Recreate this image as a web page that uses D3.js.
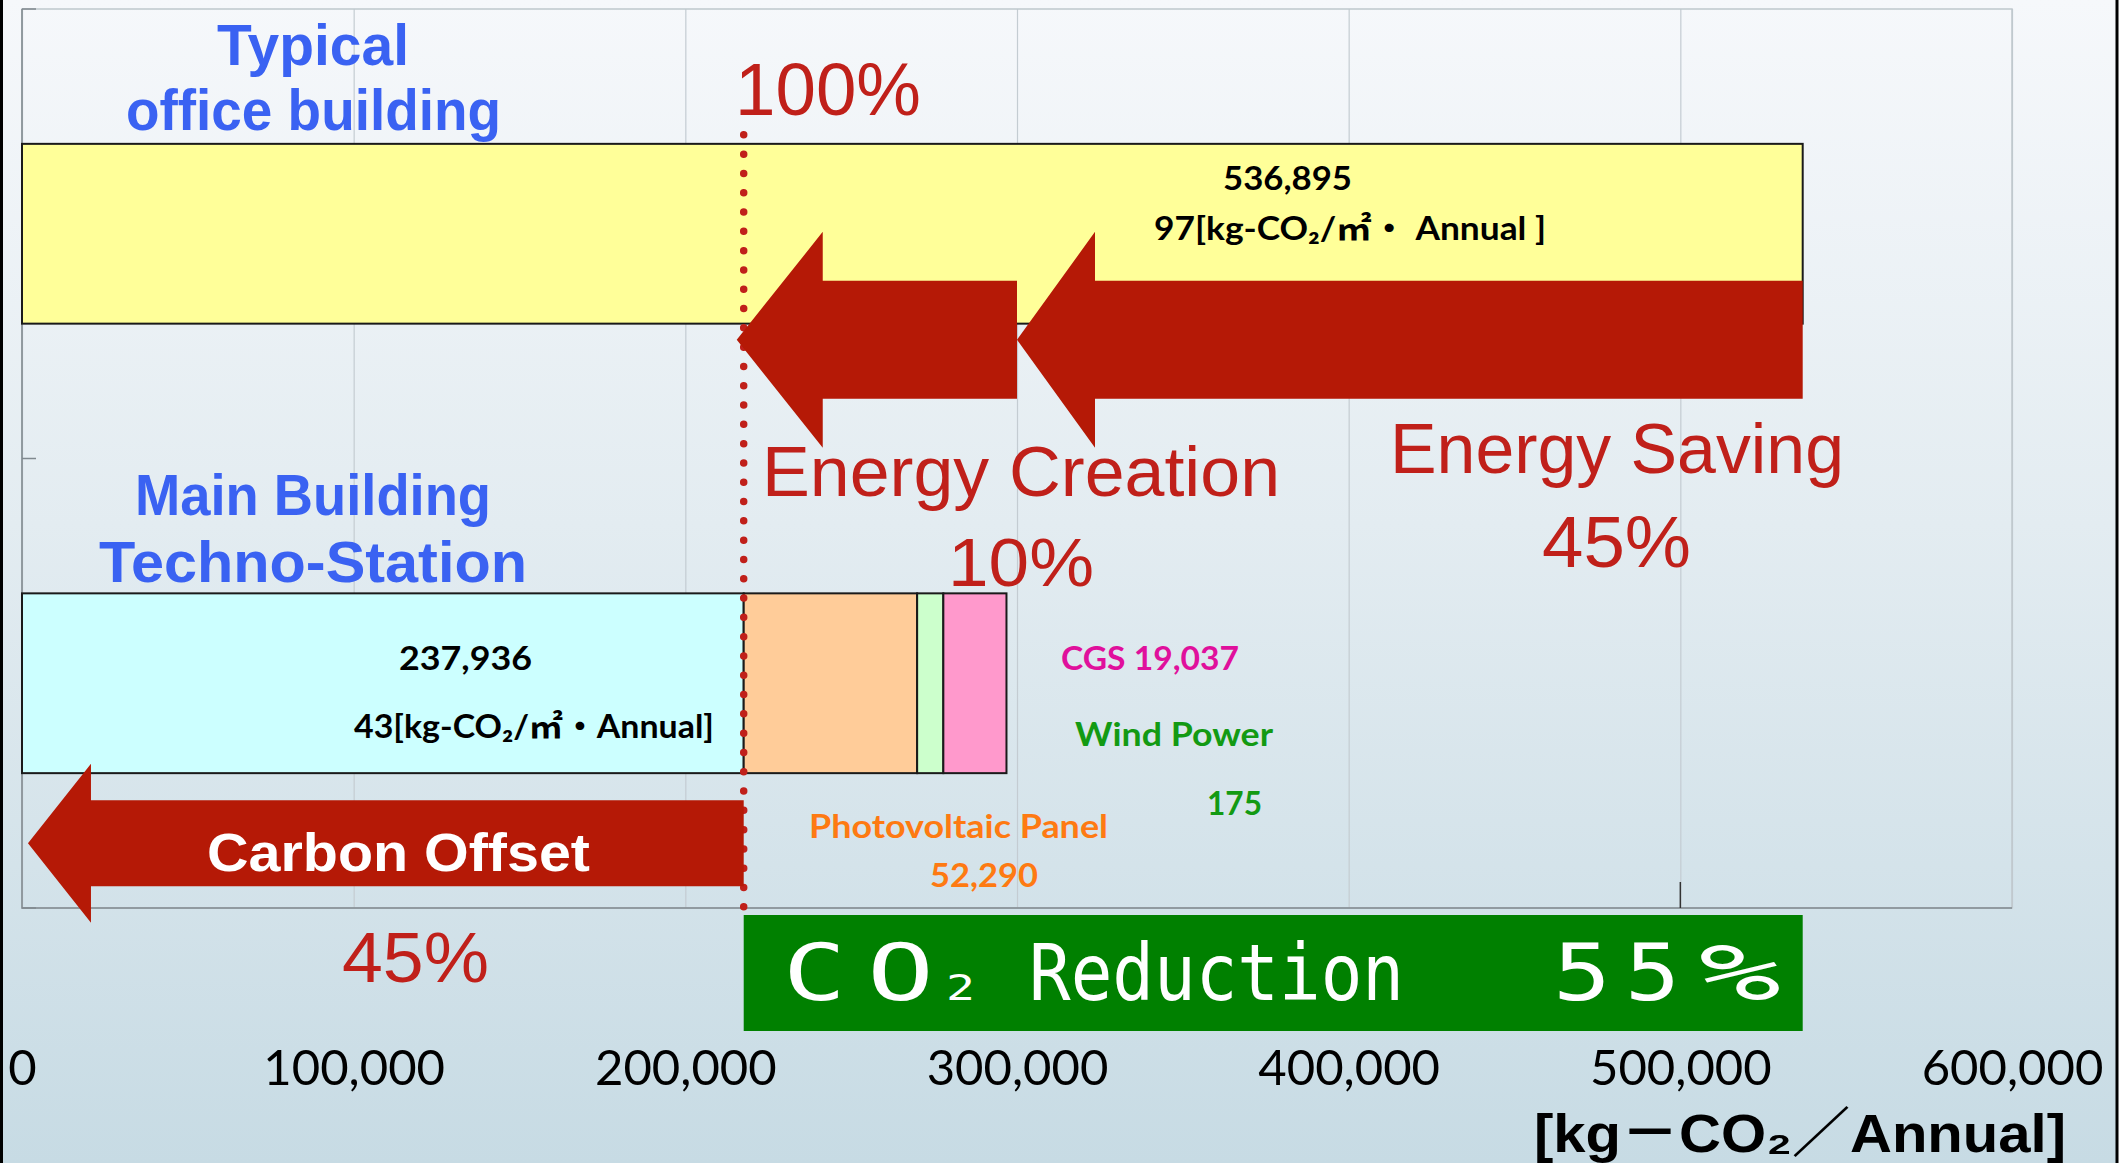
<!DOCTYPE html>
<html>
<head>
<meta charset="utf-8">
<script src="https://cdn.jsdelivr.net/npm/d3@7"></script>
<style>
  body { margin: 0; background: #fff; }
  svg { display: block; }
</style>
</head>
<body>
<svg id="chart" width="2123" height="1163"></svg>
<script>
// values
const categories = ["Typical office building", "Main Building Techno-Station"];
const typicalTotal = 536895;
const segNames = ["Main Building", "Photovoltaic Panel", "Wind Power", "CGS"];
const segValues = [217600, 52290, 7900, 19037];   // wind segment is drawn wider than its 175
const xTicks = [0, 100000, 200000, 300000, 400000, 500000, 600000];
const arrowNames = ["Energy Saving", "Energy Creation", "Carbon Offset"];
const arrowFrom = [536895, 300000, 217600];
const arrowTo = [300000, 215500, 1800];
const reductionSpan = [217600, 536895];

const W = 2123, H = 1163;
const plot = { left: 22, right: 2012, top: 9, bottom: 908 };
const svg = d3.select("#chart");

const x = d3.scaleLinear().domain([0, 600000]).range([plot.left, plot.right]);
const y = d3.scaleBand().domain(categories).range([plot.top, plot.bottom]).paddingInner(0.6).paddingOuter(0.3);
const bw = y.bandwidth();

// background gradient
const defs = svg.append("defs");
const grad = defs.append("linearGradient").attr("id", "bg").attr("x1", 0).attr("y1", 0).attr("x2", 0).attr("y2", 1);
grad.append("stop").attr("offset", "0%").attr("stop-color", "#f6f8fb");
grad.append("stop").attr("offset", "45%").attr("stop-color", "#e3ecf1");
grad.append("stop").attr("offset", "100%").attr("stop-color", "#c7dbe4");
svg.append("rect").attr("x", 0).attr("y", 0).attr("width", 2118).attr("height", H).attr("fill", "url(#bg)");
svg.append("line").attr("x1", 1.5).attr("x2", 1.5).attr("y1", 0).attr("y2", H).attr("stroke", "#000").attr("stroke-width", 3);
svg.append("line").attr("x1", 2117).attr("x2", 2117).attr("y1", 0).attr("y2", H).attr("stroke", "#000").attr("stroke-width", 3);

// gridlines
const grid = svg.append("g").attr("transform", `translate(0,${plot.bottom})`)
  .call(d3.axisBottom(x).tickValues(xTicks).tickSize(-(plot.bottom - plot.top)).tickFormat(""));
grid.select(".domain").remove();
grid.selectAll("line").attr("stroke", "#c4ccd2").attr("stroke-width", 1.2);

// plot frame
svg.append("rect").attr("x", plot.left).attr("y", plot.top)
  .attr("width", plot.right - plot.left).attr("height", plot.bottom - plot.top)
  .attr("fill", "none").attr("stroke", "#bfc7cd").attr("stroke-width", 1.5);
svg.append("path").attr("d", `M${plot.left},${plot.top}V${plot.bottom}H${plot.right}`)
  .attr("fill", "none").attr("stroke", "#80898f").attr("stroke-width", 1.5);
// category separator ticks on the left axis
svg.selectAll(".ytick").data(d3.range(categories.length + 1)).join("line")
  .attr("class", "ytick")
  .attr("x1", plot.left).attr("x2", plot.left + 14)
  .attr("y1", i => plot.top + i * y.step()).attr("y2", i => plot.top + i * y.step())
  .attr("stroke", "#80898f").attr("stroke-width", 1.5);
// the lone dark tick at 500,000
svg.append("line").attr("x1", x(500000)).attr("x2", x(500000))
  .attr("y1", plot.bottom - 26).attr("y2", plot.bottom)
  .attr("stroke", "#333").attr("stroke-width", 1.5);

// typical building bar
svg.append("rect")
  .attr("x", x(0)).attr("y", y(categories[0]))
  .attr("width", x(typicalTotal) - x(0)).attr("height", bw)
  .attr("fill", "#ffff99").attr("stroke", "#1a1a1a").attr("stroke-width", 2);

// main building stacked bar
const segColors = ["#ccffff", "#ffcc99", "#ccffcc", "#ff99cc"];
let acc = 0;
const segs = segValues.map((v, i) => { const s = { name: segNames[i], x0: acc, x1: acc + v, color: segColors[i] }; acc += v; return s; });
svg.selectAll(".seg").data(segs).join("rect")
  .attr("class", "seg")
  .attr("x", d => x(d.x0)).attr("y", y(categories[1]))
  .attr("width", d => x(d.x1) - x(d.x0)).attr("height", bw)
  .attr("fill", d => d.color).attr("stroke", "#1a1a1a").attr("stroke-width", 2);

// dotted 100% line
svg.append("line")
  .attr("x1", x(segValues[0])).attr("x2", x(segValues[0]))
  .attr("y1", y(categories[0]) - 9).attr("y2", plot.bottom + 2)
  .attr("stroke", "#c0201a").attr("stroke-width", 7.5)
  .attr("stroke-linecap", "round").attr("stroke-dasharray", "0 19.3");

// arrows
const arrowGeom = [
  { cat: 0, frac: 1.09, body: 118, head: 216, headL: 78 },
  { cat: 0, frac: 1.09, body: 118, head: 216, headL: 86 },
  { cat: 1, frac: 1.39, body: 86, head: 159, headL: 63 }
];
function arrowPath(x0, x1, cy, g) {
  const hx = x1 + g.headL;
  return `M${x0},${cy - g.body / 2}H${hx}V${cy - g.head / 2}L${x1},${cy}L${hx},${cy + g.head / 2}V${cy + g.body / 2}H${x0}Z`;
}
svg.selectAll(".arrow").data(arrowNames).join("path")
  .attr("class", "arrow")
  .attr("d", (d, i) => {
    const g = arrowGeom[i];
    return arrowPath(x(arrowFrom[i]), x(arrowTo[i]), y(categories[g.cat]) + bw * g.frac, g);
  })
  .attr("fill", "#b51906");

// CO2 reduction box
svg.append("rect")
  .attr("x", x(reductionSpan[0])).attr("y", 915)
  .attr("width", x(reductionSpan[1]) - x(reductionSpan[0])).attr("height", 116)
  .attr("fill", "#008000");

// x axis labels
const xAxis = svg.append("g").attr("transform", "translate(0,1085)")
  .call(d3.axisBottom(x).tickValues(xTicks).tickSize(0).tickPadding(0).tickFormat(d3.format(",")));
xAxis.select(".domain").remove();
xAxis.selectAll("text").attr("dy", 0).attr("fill", "#000")
  .style("font-family", "Lato, 'DejaVu Sans', sans-serif").style("font-size", "49px");

// text annotations
const SANS = "'Liberation Sans', Arial, sans-serif";
const BOLD = "Lato, 'DejaVu Sans', 'Noto Sans CJK JP', sans-serif";
const MONO = "'DejaVu Sans Mono', monospace";
const RED = "#c0201a", BLUE = "#3a62f2";
function label(txt, lx, ly, len, size, color, family, weight) {
  svg.append("text")
    .attr("x", lx).attr("y", ly)
    .attr("textLength", len).attr("lengthAdjust", "spacingAndGlyphs")
    .attr("fill", color)
    .style("font-family", family).style("font-size", size + "px").style("font-weight", weight)
    .text(txt);
}
label("Typical", 217, 65, 192, 58, BLUE, SANS, 700);
label("office building", 126, 130, 375, 58, BLUE, SANS, 700);
label("Main Building", 135, 515, 356, 58, BLUE, SANS, 700);
label("Techno-Station", 99, 582, 428, 58, BLUE, SANS, 700);

label("100%", 735, 115, 186, 74, RED, SANS, 400);
label("Energy Creation", 762, 496, 518, 70, RED, SANS, 400);
label("10%", 948, 586, 146, 68, RED, SANS, 400);
label("Energy Saving", 1390, 473, 454, 70, RED, SANS, 400);
label("45%", 1542, 567, 149, 72, RED, SANS, 400);
label("45%", 342, 982, 147, 70, RED, SANS, 400);

label("536,895", 1223, 190, 129, 32, "#000", BOLD, 700);
label("97[kg-CO\u2082/\u33A1\u30FB Annual ]", 1154, 240, 392, 32, "#000", BOLD, 700);
label("237,936", 399, 670, 133, 32, "#000", BOLD, 700);
label("43[kg-CO\u2082/\u33A1\u30FBAnnual]", 354, 738, 360, 32, "#000", BOLD, 700);

label("CGS 19,037", 1061, 670, 178, 32, "#e0109c", BOLD, 700);
label("Wind Power", 1075, 746, 198, 32, "#139a13", BOLD, 700);
label("175", 1207, 815, 55, 32, "#139a13", BOLD, 700);
label("Photovoltaic Panel", 809, 838, 299, 32, "#fe7a12", BOLD, 700);
label("52,290", 930, 887, 108, 32, "#fe7a12", BOLD, 700);

label("Carbon Offset", 207, 871, 383, 53, "#fff", SANS, 700);

// "ＣＯ₂ Reduction　５５％" in a wide monospaced look
label("C", 783, 1000, 63, 78, "#fff", MONO, 400);
label("O", 867, 1000, 67, 78, "#fff", MONO, 400);
label("2", 946, 1000, 29, 36, "#fff", MONO, 400);
label("Reduction", 1029, 1000, 375, 78, "#fff", MONO, 400);
label("5", 1553, 1000, 58, 78, "#fff", MONO, 400);
label("5", 1625, 1000, 55, 78, "#fff", MONO, 400);
label("%", 1699, 1000, 82, 78, "#fff", MONO, 400);

label("[kg\uFF0DCO\u2082\uFF0FAnnual]", 1534, 1152, 532, 54, "#000", "'Liberation Sans', 'Noto Sans CJK JP', sans-serif", 700);
</script>
</body>
</html>
